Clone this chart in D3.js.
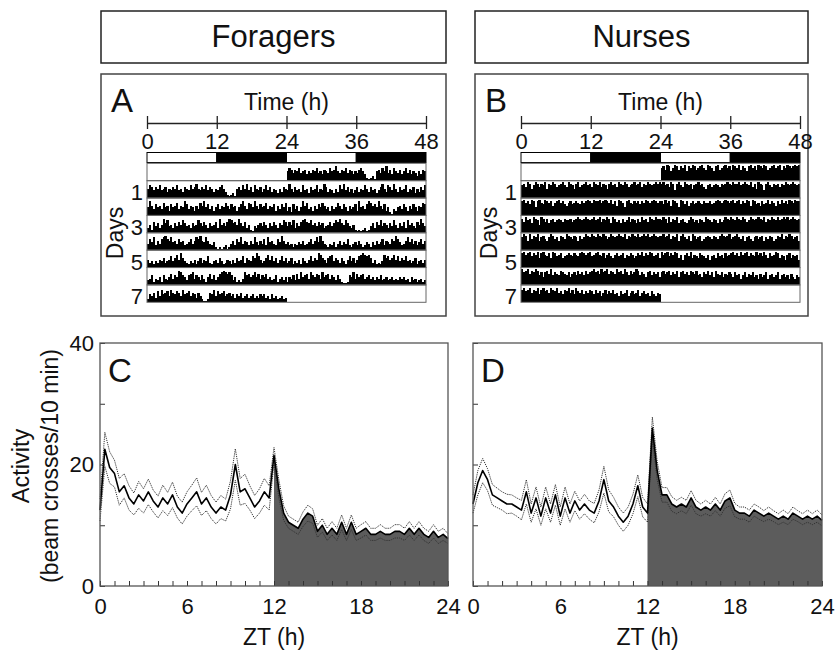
<!DOCTYPE html>
<html>
<head>
<meta charset="utf-8">
<script src="https://cdn.jsdelivr.net/npm/d3@7"></script>
<style>
  body { margin: 0; background: #fff; }
  text { font-family: "Liberation Sans", Arial, sans-serif; fill: #111; }
</style>
</head>
<body>
<svg id="fig" width="835" height="652"></svg>
<script>
// ---- data ----
const groups = ['Foragers', 'Nurses'];
const actogramLetters = ['A', 'B'];
const profileLetters = ['C', 'D'];
const timeTicks = [0, 12, 24, 36, 48];
const dayLabels = [1, 3, 5, 7];
const ztLabels = [0, 6, 12, 18, 24];
const activityLabels = [0, 20, 40];

// actogram: one array per day, 20-min bins, height 0-10 (10 = full row)
const foragerDays = [
  [6,8,7,5,7,6,8,5,6,7,4,6, 5,7,6,8,5,6,4,7,6,5,8,6, 7,9,6,5,7,6,8,5,7,6,4,6, 5,7,8,6,4,2,1,2,3,1,6,7, 5,8,6,9,5,7,4,8,6,5,7,4, 6,8,5,7,4,6,5,3,6,4,7,6],
  [5,9,6,4,7,5,6,4,8,5,6,3, 7,5,6,8,4,6,5,9,7,4,6,5, 3,6,4,8,6,9,5,7,4,6,3,5, 7,4,6,5,8,6,4,7,5,6,3,5, 7,9,6,4,8,7,5,9,6,4,7,5, 6,8,4,6,5,7,3,6,4,7,5,8],
  [3,5,2,7,4,6,3,5,9,6,8,4, 5,3,6,4,7,5,8,6,4,5,3,6, 4,5,8,6,4,7,5,3,6,4,5,7, 3,9,5,6,4,7,9,8,6,7,5,9, 6,4,7,3,5,2,1,4,3,5,6,4, 7,5,3,6,4,7,5,3,6,5,8,7],
  [4,7,5,8,3,6,4,7,8,9,7,6, 8,5,6,4,7,5,6,3,4,5,7,4, 6,8,7,9,6,5,8,6,4,3,5,2, 1,2,1,2,3,1,2,4,6,3,7,5, 8,4,6,5,3,6,4,8,5,3,6,4, 7,3,8,5,6,4,3,7,5,9,6,4],
  [5,3,4,2,4,3,5,4,6,3,4,5, 7,4,6,8,5,9,6,4,3,2,4,3, 5,2,4,6,3,5,4,7,3,2,4,5, 3,6,4,2,3,5,4,2,5,3,6,4, 5,7,3,6,5,4,7,6,9,7,5,3, 4,6,8,5,7,4,6,3,5,7,4,6],
  [3,4,6,2,4,3,5,2,6,4,3,5, 7,4,6,5,9,8,6,5,3,6,7,8, 4,6,5,3,6,4,2,5,7,4,6,3, 5,7,8,9,8,7,8,6,3,5,2,3, 2,4,8,6,7,5,6,8,5,7,4,6, 5,7,4,5,3,4,6,2,4,5,3,5],
  [2,5,4,6,3,7,4,8,5,6,7,4, 8,6,5,7,6,4,8,5,6,7,4,6, 5,3,6,4,2,1,1,2,6,5,8,4, 7,5,6,7,4,5,6,4,5,3,5,4, 6,3,4,5,3,4,5,3,4,3,5,4, 5,3,4,2,5,3,4,2,3,4,2,3]
];
const nurseDays = [
  [8,9,7,10,9,6,8,10,9,7,9,8, 10,6,9,8,10,9,7,8,9,10,8,7, 10,9,8,6,9,10,7,8,9,10,8,9, 7,10,9,8,10,7,9,8,6,9,10,8, 9,7,10,9,8,10,9,7,8,9,10,8, 9,10,7,9,8,10,9,8,9,10,9,10],
  [9,10,8,9,7,10,9,5,9,10,8,7, 10,9,8,9,6,8,9,10,8,9,7,6, 8,9,7,8,9,8,7,9,8,9,10,9, 8,10,9,9,10,8,9,10,9,8,10,7, 9,6,10,9,8,5,9,10,8,7,9,8, 9,7,9,8,10,9,8,9,10,9,8,9],
  [9,7,10,8,9,6,10,9,8,5,10,9, 7,9,6,8,9,7,8,9,8,7,9,8, 8,9,7,8,9,10,9,8,9,10,9,8, 9,10,8,9,10,7,9,8,10,9,6,10, 9,7,8,6,9,7,8,10,7,9,8,6, 9,7,10,8,9,7,10,9,8,10,9,9],
  [8,10,9,6,10,7,9,8,10,6,8,9, 7,6,8,10,9,7,8,6,9,8,7,10, 9,8,7,9,8,6,9,7,8,10,9,8, 10,9,8,10,9,8,10,9,7,8,10,9, 8,9,10,9,8,10,7,9,8,10,9,8, 10,8,9,10,9,10,8,9,10,9,8,9],
  [9,10,8,9,10,7,9,8,10,6,9,10, 8,7,9,6,10,9,7,8,9,6,7,8, 9,8,7,9,8,7,9,10,9,8,9,10, 7,8,9,10,8,7,9,6,8,9,7,6, 8,9,7,8,9,6,8,7,9,8,6,7, 9,8,10,7,9,8,10,9,7,8,9,6],
  [10,8,9,10,7,9,8,10,9,6,8,5, 8,9,7,10,6,8,7,6,9,8,7,6, 8,5,7,8,6,9,7,8,6,9,7,8, 9,10,8,9,7,10,8,9,10,7,9,8, 7,10,8,9,7,10,8,6,9,7,8,10, 9,6,8,7,5,8,9,6,8,7,8,5],
  [8,9,7,8,9,6,8,7,9,5,8,9, 7,8,6,9,8,7,9,6,7,5,8,7, 9,6,8,5,9,7,6,8,5,7,6,8, 7,5,8,6,7,4,6,8,5,7,6,8, 5,6,4,7,5,6,8,4,6,7,5,6, 8,4,6,7,5,6,4,7,5,4,6,5]
];

// mean activity profile, ZT 0..24 every 20 min (beam crosses / 10 min), with SEM
const foragerMean = [12.5,22.5,19.5,18.5,15.5,16.5,14.5,13.5,15,14,15.5,14,
  13,14.5,13.5,15,13,12,13.5,14.5,15.5,13.5,14.5,13,
  12,13,12.5,15,20,15.5,16,14.5,13,14,15.5,14.5,
  21.5,16,12,10.5,10,9.5,11,12,11.5,9,10,8.5,
  9.5,8.5,10.5,8.5,10.5,8.5,9,9.5,8.5,8.5,9,8.5,
  8.5,9,9,8.5,9.5,8.5,9.5,8.5,8,9,8,8.5,
  7.8];
const foragerSem = [1.8,2.8,2.6,2.2,2.2,2,2,1.8,2.2,2,2.1,1.8,
  1.8,2.1,1.9,2.1,1.8,1.8,2,2.1,2.3,1.9,2.1,1.9,
  1.8,1.9,1.8,2.3,2.6,2.2,2.4,2,1.9,2,2.2,2,
  1.3,1.5,1.2,1,1,1,1.2,1.3,1.2,1,1.1,1,
  1.1,1,1.2,1,1.2,1,1.1,1.1,1,1,1.1,1,
  1,1.1,1.1,1,1.1,1,1.1,1,1,1.1,1,1,
  0.8];
const nurseMean = [13.5,17,19,17.5,15,14.5,14,13.5,13.5,13,12.5,15.5,
  12,14.5,11.5,14.5,12,15,11.5,14.5,12,14,12.5,13.5,
  12.5,12,14,17.5,14,13,11.5,10.5,11.5,13.5,16.5,13,
  12,26,19,15,15,13.5,13,13.5,13,14.5,13,12.5,
  13,12.5,13.5,12.5,14,14.5,12.5,12,12,11.5,12.5,12,
  11.5,12,11.5,11,11.5,11,12,11.5,11,11.5,11,11.5,
  10.8];
const nurseSem = [1.5,2,2,1.8,1.7,1.6,1.5,1.6,1.5,1.5,1.6,2,
  1.5,1.8,1.5,1.8,1.5,1.7,1.5,1.8,1.5,1.6,1.5,1.6,
  1.5,1.6,1.8,2.2,1.8,1.6,1.5,1.5,1.5,1.6,1.8,1.6,
  1.5,1.8,1.5,1.2,1.2,1.2,1.1,1.1,1.1,1.2,1.1,1,
  1.1,1,1.1,1,1.2,1.3,1.1,1,1,1,1,1,
  0.9,1,0.9,0.9,1,0.9,1,0.9,0.9,1,0.9,1,
  0.9];

// ---- layout ----
const cols = [
  { x0: 101, x1: 446, actL: 147, actR: 426, pL: 100, pR: 448, days: foragerDays, mean: foragerMean, sem: foragerSem, yLabels: true },
  { x0: 475, x1: 808, actL: 521, actR: 800, pL: 473, pR: 822, days: nurseDays, mean: nurseMean, sem: nurseSem, yLabels: false }
];

const svg = d3.select('#fig');
svg.append('rect').attr('width', 835).attr('height', 652).attr('fill', '#fff');

function drawTitle(c, name) {
  svg.append('rect')
    .attr('x', c.x0).attr('y', 11).attr('width', c.x1 - c.x0).attr('height', 52)
    .attr('fill', 'none').attr('stroke', '#222').attr('stroke-width', 1.5);
  svg.append('text')
    .attr('x', (c.x0 + c.x1) / 2).attr('y', 47)
    .attr('text-anchor', 'middle').attr('font-size', 31)
    .text(name);
}

function drawActogram(c, letter) {
  const g = svg.append('g');
  const x = d3.scaleLinear().domain([0, 48]).range([c.actL, c.actR]);

  g.append('rect')
    .attr('x', c.x0).attr('y', 74).attr('width', c.x1 - c.x0).attr('height', 242)
    .attr('fill', 'none').attr('stroke', '#444').attr('stroke-width', 1.5);
  g.append('text').attr('x', c.x0 + 10).attr('y', 112).attr('font-size', 33).text(letter);
  g.append('text')
    .attr('x', x(24)).attr('y', 110).attr('text-anchor', 'middle').attr('font-size', 23)
    .text('Time (h)');

  // time axis, ticks crossing the line
  const axisY = 123;
  const ax = g.append('g')
    .attr('transform', `translate(0,${axisY})`)
    .call(d3.axisBottom(x).tickValues(timeTicks).tickSizeInner(6).tickSizeOuter(0).tickPadding(4));
  ax.select('.domain').attr('stroke', '#222').attr('stroke-width', 1.3);
  ax.selectAll('.tick line').attr('y1', -7).attr('stroke', '#222').attr('stroke-width', 1.3);
  ax.selectAll('.tick text').attr('font-size', 22).attr('font-family', '"Liberation Sans", Arial, sans-serif').attr('fill', '#111');

  // light/dark bar
  const ldY = 152.5, ldH = 10;
  g.selectAll('.ld').data(d3.pairs(timeTicks)).enter().append('rect')
    .attr('x', d => x(d[0])).attr('y', ldY)
    .attr('width', d => x(d[1]) - x(d[0])).attr('height', ldH)
    .attr('fill', (d, i) => i % 2 ? '#000' : '#fff')
    .attr('stroke', '#000').attr('stroke-width', 1);

  // double-plotted rows
  const days = c.days;
  const nRows = days.length + 1;
  const rowY = d3.scaleBand().domain(d3.range(nRows)).range([163.3, 302.3]);
  const h = d3.scaleLinear().domain([0, 10]).range([0, rowY.bandwidth() - 1.5]);
  const binH = 24 / days[0].length;
  const bw = x(binH) - x(0);

  const bars = [];
  for (let r = 0; r < nRows; r++) {
    if (r >= 1) days[r - 1].forEach((v, i) => bars.push({ r, t: i * binH, v }));
    if (r < days.length) days[r].forEach((v, i) => bars.push({ r, t: 24 + i * binH, v }));
  }
  g.selectAll('.bar').data(bars).enter().append('rect')
    .attr('x', d => x(d.t)).attr('width', bw + 0.25)
    .attr('y', d => rowY(d.r) + rowY.bandwidth() - h(d.v))
    .attr('height', d => h(d.v))
    .attr('fill', '#000')
    .attr('shape-rendering', 'crispEdges');

  g.selectAll('.row').data(d3.range(nRows)).enter().append('rect')
    .attr('x', x(0)).attr('y', d => rowY(d))
    .attr('width', x(48) - x(0)).attr('height', rowY.bandwidth())
    .attr('fill', 'none').attr('stroke', '#666').attr('stroke-width', 1);

  g.selectAll('.dayLab').data(dayLabels).enter().append('text')
    .attr('x', x(0) - 4).attr('y', d => rowY(d) + rowY.bandwidth() + 2)
    .attr('text-anchor', 'end').attr('font-size', 22)
    .text(d => d);

  g.append('text')
    .attr('transform', `translate(${c.actL - 24},233) rotate(-90)`)
    .attr('text-anchor', 'middle').attr('font-size', 23)
    .text('Days');
}

function drawProfile(c, letter) {
  const g = svg.append('g');
  const x = d3.scaleLinear().domain([0, 24]).range([c.pL, c.pR]);
  const y = d3.scaleLinear().domain([0, 40]).range([586, 343]);
  const n = c.mean.length;
  const pts = c.mean.map((m, i) => ({ t: i * 24 / (n - 1), m, lo: m - c.sem[i], hi: m + c.sem[i] }));

  // dark phase shading under the mean
  const dark = pts.filter(d => d.t >= 12);
  g.append('path').datum(dark)
    .attr('d', d3.area().x(d => x(d.t)).y0(y(0)).y1(d => y(d.m)))
    .attr('fill', '#5c5c5c');

  const line = key => d3.line().x(d => x(d.t)).y(d => y(d[key]));
  ['hi', 'lo'].forEach(k => {
    g.append('path').datum(pts)
      .attr('d', line(k)).attr('fill', 'none')
      .attr('stroke', '#333').attr('stroke-width', 1).attr('stroke-dasharray', '1.2,1');
  });
  g.append('path').datum(pts)
    .attr('d', line('m')).attr('fill', 'none')
    .attr('stroke', '#000').attr('stroke-width', 1.6).attr('stroke-linejoin', 'round');

  // axes
  const fontFam = '"Liberation Sans", Arial, sans-serif';
  const xa = g.append('g').attr('transform', `translate(0,${y(0)})`)
    .call(d3.axisBottom(x).tickValues(d3.range(0, 25)).tickSizeInner(-5).tickSizeOuter(0).tickPadding(12)
      .tickFormat(d => ztLabels.includes(d) ? d : ''));
  xa.selectAll('.tick line').attr('stroke', '#333');
  xa.selectAll('.tick text').attr('font-size', 22).attr('font-family', fontFam).attr('fill', '#111');
  xa.select('.domain').remove();

  const ya = g.append('g').attr('transform', `translate(${x(0)},0)`)
    .call(d3.axisLeft(y).tickValues([0, 10, 20, 30, 40]).tickSizeInner(-5).tickSizeOuter(0).tickPadding(6)
      .tickFormat(d => c.yLabels && activityLabels.includes(d) ? d : ''));
  ya.selectAll('.tick line').attr('stroke', '#333');
  ya.selectAll('.tick text').attr('font-size', 22).attr('font-family', fontFam).attr('fill', '#111');
  ya.select('.domain').remove();

  g.append('rect')
    .attr('x', x(0)).attr('y', y(40)).attr('width', x(24) - x(0)).attr('height', y(0) - y(40))
    .attr('fill', 'none').attr('stroke', '#555').attr('stroke-width', 1.3);

  g.append('text').attr('x', x(0) + 8).attr('y', 382).attr('font-size', 33).text(letter);
  g.append('text')
    .attr('x', x(12)).attr('y', 645).attr('text-anchor', 'middle').attr('font-size', 23)
    .text('ZT (h)');

  if (c.yLabels) {
    g.append('text')
      .attr('transform', `translate(29,466) rotate(-90)`)
      .attr('text-anchor', 'middle').attr('font-size', 23.5)
      .text('Activity');
    g.append('text')
      .attr('transform', `translate(58,466) rotate(-90)`)
      .attr('text-anchor', 'middle').attr('font-size', 23)
      .text('(beam crosses/10 min)');
  }
}

cols.forEach((c, i) => {
  drawTitle(c, groups[i]);
  drawActogram(c, actogramLetters[i]);
  drawProfile(c, profileLetters[i]);
});
</script>
</body>
</html>
